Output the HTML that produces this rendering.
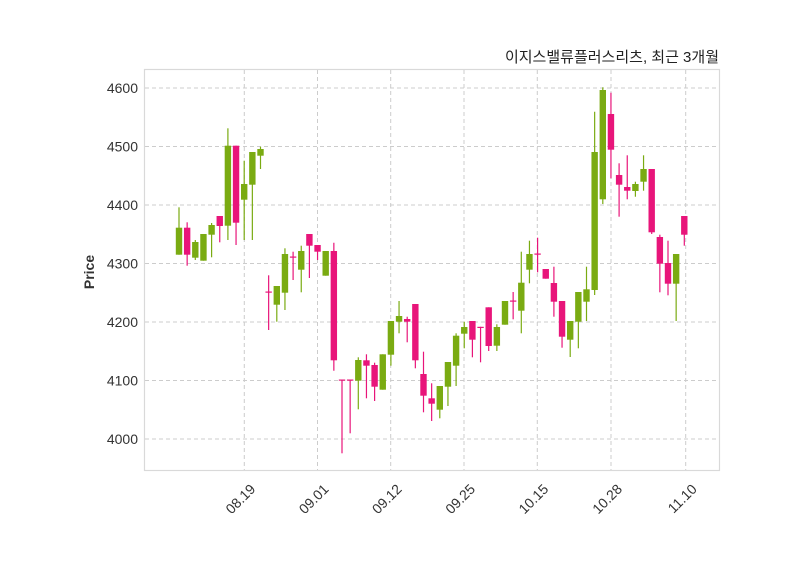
<!DOCTYPE html>
<html><head><meta charset="utf-8"><style>
body{margin:0;background:#fff;}
svg{display:block;font-family:"Liberation Sans","Noto Sans CJK KR",sans-serif;}
</style></head><body>
<svg id="s" width="800" height="575" xmlns="http://www.w3.org/2000/svg">
<rect x="0" y="0" width="800" height="575" fill="#fff"/>
<g id="grid" stroke="#cccccc" stroke-width="1" stroke-dasharray="4,3"></g>
<rect x="144.5" y="69.5" width="575" height="401" fill="none" stroke="#d9d9d9" stroke-width="1.2"/>
<g id="c"></g>
<g font-size="14" fill="#333" text-anchor="end" id="yl"></g>
<g font-size="14" fill="#333" id="xl"></g>
<text x="0" y="0" transform="translate(94,272) rotate(-90)" text-anchor="middle" font-size="14" font-weight="bold" fill="#333">Price</text>
<text x="719" y="62" text-anchor="end" font-size="15" fill="#222">이지스밸류플러스리츠, 최근 3개월</text>
</svg>
<script>
var ns="http://www.w3.org/2000/svg";
function el(p,t,a,txt){var e=document.createElementNS(ns,t);for(var k in a)e.setAttribute(k,a[k]);if(txt)e.textContent=txt;document.getElementById(p).appendChild(e);}
for(var v=4000;v<=4600;v+=100){var y=439-(v-4000)*0.585;el("grid","line",{x1:145,x2:719,y1:y,y2:y});el("yl","text",{x:138,y:y+5},""+v);}
var xs=[["08.19",244.3],["09.01",317.5],["09.12",390.7],["09.25",464],["10.15",537.3],["10.28",611],["11.10",685.7]];
xs.forEach(function(d){el("grid","line",{x1:d[1],x2:d[1],y1:70,y2:470});el("xl","text",{x:0,y:0,"text-anchor":"end",transform:"translate("+(d[1]+12)+",490) rotate(-45)"},d[0]);});
var G="#7aab12",P="#e8157a";
var c=[[227.7,254.7,207.3,254.7,G],[227.7,254.7,222.3,265.7,P],[242,257.7,240,260,G],[234,260.7,234,260.7,G],[225,234.7,223,257.3,G],[216,226,216,242.3,P],[145.7,225.7,128.3,240,G],[145.7,222.7,145.7,245,P],[184,199.7,160.7,240,G],[152,184.7,152,240,G],[149,155.7,146.7,169,G],
[291.5,292.5,275.3,330,P],[286,304.7,286,321.7,G],[254,292.7,248.3,310,G],[256.5,257.5,251.7,280,P],[251,269.7,245.7,292.3,G],[234,245.7,234,278,P],[245,251.7,245,260,P],[251,275.7,251,275.7,G],[251,360.3,242.7,370.7,P],
[379.5,380.5,379.5,453.3,P],[379.5,380.5,379.5,433.3,P],[360,380.7,357.3,409.3,G],[360.3,365.7,354.3,398.3,P],[365,386.7,362.7,401,P],[354.3,389.7,354.3,389.7,G],[321,354.7,321,365.7,G],[316,321.7,301,333.3,G],[319,321.7,316.7,342.3,P],[304,360.3,304,368.3,P],
[374,395.7,351.7,412.3,P],[398.3,403.7,383.3,421,P],[386,409.7,386,418.3,G],[362,386.7,362,406,G],[335.7,365.7,333.3,386,G],[327,333.7,321.7,348.3,G],[321,339.7,321,357.3,P],[326.8,327.8,326.8,362.3,P],[307.3,346,307.3,351,P],[327,345.7,324.3,351,G],
[301,324.7,301,324.7,G],[300.5,301.5,292,319.3,P],[282.7,310.7,251.7,333.3,G],[254,269.7,240.7,283.3,G],[253.5,254.5,237.7,272.3,P],[269,278.7,269,278.7,P],[283,301.7,266.7,316.7,P],[301,336.7,301,347.7,P],[321,339.7,321,357,G],[292,321.7,292,348.3,G],
[289.3,301.7,266.7,321,G],[152,290,111.7,295,G],[90,199.3,87.3,204,G],[114,149.7,92.7,178.3,P],[175,184.7,163.3,216.7,P],[187,190.7,155.3,199.3,P],[184,191,181.7,196.7,G],[169,181.7,155.3,190.7,G],[169,232.3,169,234,P],[237,263.7,234.7,292.3,P],
[263,283.7,240.7,295.3,P],[254,283.7,254,321,G],[216,234.7,216,245.7,P]];
c.forEach(function(d,i){var x=179+i*8.15;el("c","line",{x1:x,x2:x,y1:d[2],y2:d[3],stroke:d[4],"stroke-width":1.2});
var h=Math.max(d[1]-d[0],1.2);el("c","rect",{x:x-3.2,y:d[0],width:6.4,height:h,fill:d[4]});});
</script>
</body></html>
